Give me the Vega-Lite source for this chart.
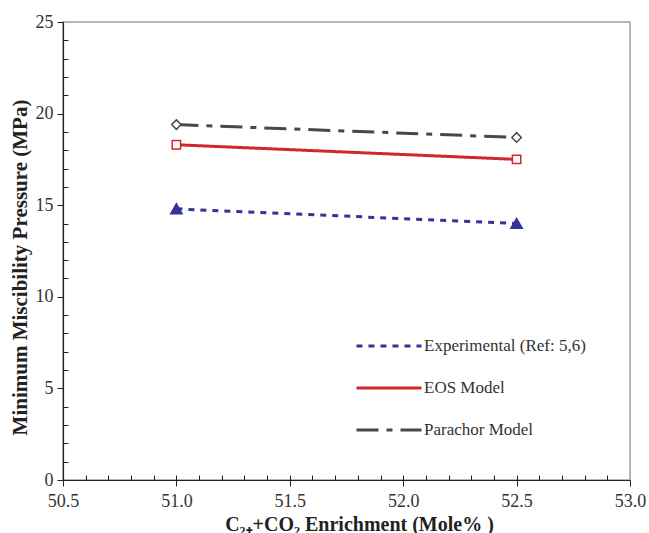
{
  "$schema": "https://vega.github.io/schema/vega-lite/v6.json",
  "width": 567,
  "height": 458,
  "autosize": {"type": "none"},
  "padding": {"left": 63, "top": 22, "right": 19, "bottom": 53},
  "background": "white",
  "config": {
    "view": {"stroke": "#a0a0a0", "strokeWidth": 1.5},
    "font": "Liberation Serif",
    "axis": {
      "grid": false,
      "labelFont": "Liberation Serif",
      "labelFontSize": 18,
      "labelColor": "#333333",
      "labelFlush": false,
      "titleFont": "Liberation Serif",
      "titleFontSize": 20,
      "titleFontWeight": "bold",
      "titleColor": "#222222",
      "domainColor": "#222222",
      "domainWidth": 1.2,
      "tickColor": "#222222",
      "tickWidth": 1
    },
    "legend": {
      "labelFont": "Liberation Serif",
      "labelFontSize": 17,
      "labelColor": "#333333",
      "labelLimit": 400
    }
  },
  "data": {
    "values": [
      {"x": 51.0, "y": 14.8, "s": "Experimental (Ref: 5,6)"},
      {"x": 52.5, "y": 14.0, "s": "Experimental (Ref: 5,6)"},
      {"x": 51.0, "y": 18.3, "s": "EOS Model"},
      {"x": 52.5, "y": 17.5, "s": "EOS Model"},
      {"x": 51.0, "y": 19.4, "s": "Parachor Model"},
      {"x": 52.5, "y": 18.7, "s": "Parachor Model"}
    ]
  },
  "layer": [
    {
      "mark": {"type": "line", "clip": true},
      "encoding": {
        "x": {
          "field": "x", "type": "quantitative",
          "scale": {"domain": [50.5, 53.0], "nice": false, "zero": false},
          "axis": {
            "orient": "bottom",
            "title": "C₂₊+CO₂ Enrichment (Mole% )",
            "titleX": 296,
            "values": [50.5, 51.0, 51.5, 52.0, 52.5, 53.0],
            "format": ".1f",
            "tickSize": 6,
            "labelPadding": 6,
            "titlePadding": 4
          }
        },
        "y": {
          "field": "y", "type": "quantitative",
          "scale": {"domain": [0, 25], "nice": false},
          "axis": {
            "orient": "left",
            "title": "Minimum Miscibility Pressure (MPa)",
            "titleFontSize": 21,
            "titleY": 245,
            "values": [0, 5, 10, 15, 20, 25],
            "format": "d",
            "tickSize": 6,
            "labelPadding": 4,
            "titlePadding": 5
          }
        },
        "color": {
          "field": "s", "type": "nominal",
          "scale": {
            "domain": ["Experimental (Ref: 5,6)", "EOS Model", "Parachor Model"],
            "range": ["#333399", "#d0282e", "#434a4a"]
          },
          "legend": {"title": null, "orient": "none", "legendX": 292, "legendY": 290, "symbolType": "stroke", "symbolSize": 4225, "symbolStrokeWidth": 3, "rowPadding": 0, "labelOffset": 1}
        },
        "strokeDash": {
          "field": "s", "type": "nominal",
          "scale": {
            "domain": ["Experimental (Ref: 5,6)", "EOS Model", "Parachor Model"],
            "range": [[6, 6], [1, 0], [22, 8, 6, 8]]
          },
          "legend": {"title": null, "orient": "none", "legendX": 292, "legendY": 290, "symbolType": "stroke", "symbolSize": 4225, "symbolStrokeWidth": 3, "rowPadding": 0, "labelOffset": 1}
        },
        "strokeWidth": {"value": 3}
      }
    },
    {
      "transform": [{"filter": "datum.s === 'Experimental (Ref: 5,6)'"}],
      "mark": {"type": "point", "shape": "triangle-up", "size": 110, "filled": true, "fill": "#333399", "stroke": "#333399", "opacity": 1},
      "encoding": {
        "x": {"field": "x", "type": "quantitative", "axis": null},
        "y": {"field": "y", "type": "quantitative", "axis": null}
      }
    },
    {
      "transform": [{"filter": "datum.s === 'EOS Model'"}],
      "mark": {"type": "point", "shape": "square", "size": 70, "fill": "white", "stroke": "#d0282e", "strokeWidth": 1.5, "opacity": 1},
      "encoding": {
        "x": {"field": "x", "type": "quantitative", "axis": null},
        "y": {"field": "y", "type": "quantitative", "axis": null}
      }
    },
    {
      "transform": [{"filter": "datum.s === 'Parachor Model'"}],
      "mark": {"type": "point", "shape": "diamond", "size": 90, "fill": "white", "stroke": "#434a4a", "strokeWidth": 1.5, "opacity": 1},
      "encoding": {
        "x": {"field": "x", "type": "quantitative", "axis": null},
        "y": {"field": "y", "type": "quantitative", "axis": null}
      }
    },
    {
      "mark": {"type": "point", "opacity": 0},
      "encoding": {
        "x": {
          "field": "x", "type": "quantitative",
          "axis": {
            "orient": "bottom", "title": null, "labels": false, "domain": false,
            "values": [50.6, 50.7, 50.8, 50.9, 51.0, 51.1, 51.2, 51.3, 51.4, 51.5, 51.6, 51.7, 51.8, 51.9, 52.0, 52.1, 52.2, 52.3, 52.4, 52.5, 52.6, 52.7, 52.8, 52.9],
            "tickSize": 5,
            "offset": -5
          }
        },
        "y": {
          "field": "y", "type": "quantitative",
          "axis": {
            "orient": "left", "title": null, "labels": false, "domain": false,
            "values": [1, 2, 3, 4, 6, 7, 8, 9, 11, 12, 13, 14, 16, 17, 18, 19, 21, 22, 23, 24],
            "tickSize": 5,
            "offset": -5
          }
        }
      }
    }
  ],
  "resolve": {"axis": {"x": "independent", "y": "independent"}}
}
